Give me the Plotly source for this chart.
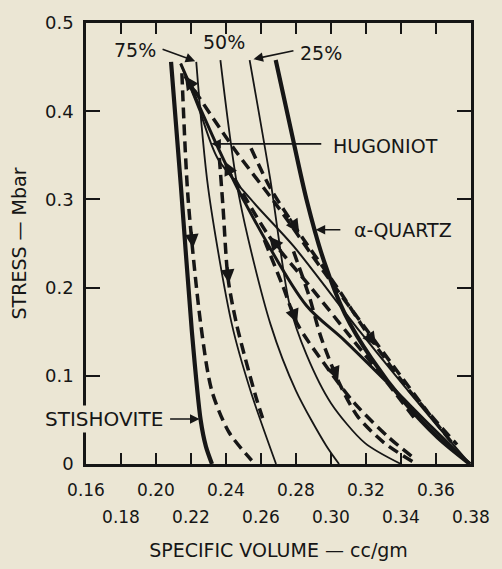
import numpy as np
import plotly.graph_objects as go

# ---------------- data ----------------
stish_x = [0.2086, 0.2143, 0.2205, 0.2255, 0.2285, 0.2320]
stish_y = [0.456, 0.313, 0.150, 0.050, 0.020, 0.0]

p75_x = [0.2230, 0.2298, 0.2434, 0.2540, 0.2686]
p75_y = [0.456, 0.313, 0.158, 0.083, 0.0]

p50_x = [0.2368, 0.2476, 0.2655, 0.2800, 0.2972, 0.3046]
p50_y = [0.458, 0.302, 0.158, 0.083, 0.021, 0.0]

p25_x = [0.2535, 0.2652, 0.2764, 0.2860, 0.3000, 0.3193, 0.3400]
p25_y = [0.458, 0.324, 0.180, 0.124, 0.069, 0.024, 0.0]

quartz_x = [0.2684, 0.2770, 0.2860, 0.2960, 0.3080, 0.3230, 0.3420, 0.3610, 0.3794]
quartz_y = [0.458, 0.380, 0.300, 0.230, 0.170, 0.120, 0.070, 0.030, 0.0]

hug_x = [0.2141, 0.2344, 0.2493, 0.2858, 0.3072, 0.3354, 0.3580, 0.3794]
hug_y = [0.454, 0.363, 0.302, 0.180, 0.141, 0.086, 0.041, 0.0]

h2_x = [0.2141, 0.2250, 0.2351, 0.2560, 0.2786, 0.3166, 0.3579, 0.3794]
h2_y = [0.454, 0.400, 0.347, 0.296, 0.247, 0.150, 0.050, 0.0]

# dashed paths
d1_x = [0.2148, 0.2183, 0.2256, 0.2319, 0.2417, 0.2547]
d1_y = [0.443, 0.302, 0.158, 0.083, 0.036, 0.004]

d2_x = [0.2165, 0.2444, 0.2699, 0.2955, 0.3182, 0.3409, 0.3579, 0.3692]
d2_y = [0.440, 0.358, 0.291, 0.219, 0.158, 0.097, 0.052, 0.024]

d3_x = [0.2362, 0.2383, 0.2412, 0.2461, 0.2568, 0.2609]
d3_y = [0.347, 0.291, 0.210, 0.158, 0.078, 0.052]

d4_x = [0.2619, 0.2724, 0.2810, 0.2964, 0.3134, 0.3331, 0.3472]
d4_y = [0.254, 0.202, 0.158, 0.113, 0.069, 0.030, 0.007]

d5_x = [0.2786, 0.2874, 0.2944, 0.3049, 0.3152, 0.3304, 0.3473]
d5_y = [0.241, 0.191, 0.143, 0.091, 0.054, 0.024, 0.002]

d6_x = [0.2543, 0.2653, 0.2801, 0.3039, 0.3238, 0.3449, 0.3607, 0.3720]
d6_y = [0.358, 0.313, 0.267, 0.199, 0.139, 0.083, 0.047, 0.022]

d7_x = [0.2447, 0.2647, 0.2890, 0.3100, 0.3326, 0.3496]
d7_y = [0.324, 0.258, 0.199, 0.147, 0.091, 0.047]

x_ticks = [0.16, 0.18, 0.20, 0.22, 0.24, 0.26, 0.28, 0.30, 0.32, 0.34, 0.36, 0.38]
x_row1 = ["0.16", "", "0.20", "", "0.24", "", "0.28", "", "0.32", "", "0.36", ""]
x_row2_vals = [0.18, 0.22, 0.26, 0.30, 0.34, 0.38]
x_row2 = ["0.18", "0.22", "0.26", "0.30", "0.34", "0.38"]
y_ticks = [0, 0.1, 0.2, 0.3, 0.4, 0.5]
y_labels = ["0", "0.1", "0.2", "0.3", "0.4", "0.5"]

# ---------------- styling ----------------
BG = "#ebe6d4"
INK = "#161616"
FONT = "DejaVu Sans, Verdana, sans-serif"
DASH = "11px,6px"

fig = go.Figure()


def add_line(x, y, width, dash="solid"):
    fig.add_trace(go.Scatter(
        x=x, y=y, mode="lines",
        line=dict(color=INK, width=width, dash=dash, shape="spline", smoothing=0.8),
        showlegend=False, hoverinfo="skip"))


add_line(stish_x, stish_y, 4.2)
add_line(quartz_x, quartz_y, 4.2)
add_line(hug_x, hug_y, 3)
add_line(h2_x, h2_y, 2)
add_line(p75_x, p75_y, 1.8)
add_line(p50_x, p50_y, 1.8)
add_line(p25_x, p25_y, 1.8)
for dx, dy in [(d1_x, d1_y), (d2_x, d2_y), (d3_x, d3_y), (d4_x, d4_y),
               (d5_x, d5_y), (d6_x, d6_y), (d7_x, d7_y)]:
    add_line(dx, dy, 3.5, DASH)

# helper trace for the second row of x tick labels
fig.add_trace(go.Scatter(x=[0.16, 0.38], y=[None, None], xaxis="x2", yaxis="y",
                         mode="lines", showlegend=False, hoverinfo="skip"))


def point_at(xs, ys, yv):
    ys_a = np.array(ys)
    xs_a = np.array(xs)
    order = np.argsort(ys_a)
    return float(np.interp(yv, ys_a[order], xs_a[order])), yv


annotations = []


def arrow_on(xs, ys, y_tip, y_tail, width=2.5):
    tx, ty = point_at(xs, ys, y_tip)
    bx, by = point_at(xs, ys, y_tail)
    annotations.append(dict(x=tx, y=ty, ax=bx, ay=by, xref="x", yref="y",
                            axref="x", ayref="y", text="", showarrow=True,
                            arrowhead=2, arrowsize=1.1, arrowwidth=width,
                            arrowcolor=INK, standoff=0))


arrow_on(d1_x, d1_y, 0.245, 0.265)
arrow_on(d3_x, d3_y, 0.205, 0.225)
arrow_on(d4_x, d4_y, 0.160, 0.180)
arrow_on(d2_x, d2_y, 0.440, 0.415)
arrow_on(hug_x, hug_y, 0.343, 0.325)
arrow_on(d7_x, d7_y, 0.258, 0.240)
arrow_on(d6_x, d6_y, 0.262, 0.280)
arrow_on(d6_x, d6_y, 0.134, 0.150)
arrow_on(d5_x, d5_y, 0.095, 0.112)


def label(text, x, y, size=19, **kw):
    d = dict(x=x, y=y, xref="x", yref="y", text=text, showarrow=False,
             font=dict(family=FONT, size=size, color=INK))
    d.update(kw)
    annotations.append(d)


def pointer(x0, y0, x1, y1):
    annotations.append(dict(x=x1, y=y1, ax=x0, ay=y0, xref="x", yref="y",
                            axref="x", ayref="y", text="", showarrow=True,
                            arrowhead=2, arrowsize=1.2, arrowwidth=1.6,
                            arrowcolor=INK, standoff=0))


label("75%", 0.188, 0.469)
pointer(0.2029, 0.471, 0.2224, 0.4567)
label("50%", 0.2389, 0.478)
label("25%", 0.2944, 0.4656)
pointer(0.2794, 0.469, 0.2557, 0.459)
label("HUGONIOT", 0.3313, 0.361)
pointer(0.2953, 0.363, 0.2316, 0.363)
label("α-QUARTZ", 0.3411, 0.2656)
pointer(0.3062, 0.2656, 0.2912, 0.2656)
label("STISHOVITE", 0.1700, 0.051, size=20, bgcolor=BG)
pointer(0.2072, 0.051, 0.2249, 0.051)

fig.update_layout(
    width=502, height=569,
    margin=dict(l=86, r=19, t=22, b=97),
    paper_bgcolor=BG, plot_bgcolor=BG,
    showlegend=False,
    font=dict(family=FONT, size=17, color=INK),
    annotations=annotations,
    xaxis=dict(range=[0.16, 0.38], tickvals=x_ticks, ticktext=x_row1,
               ticks="inside", ticklen=11, tickwidth=2, tickcolor=INK,
               showline=True, linewidth=2.5, linecolor=INK, mirror="ticks",
               showgrid=False, zeroline=False, ticklabelstandoff=9,
               tickfont=dict(family=FONT, size=17, color=INK)),
    xaxis2=dict(range=[0.16, 0.38], overlaying="x", anchor="y", side="bottom",
                tickvals=x_row2_vals, ticktext=x_row2, ticks="",
                showline=False, showgrid=False, zeroline=False,
                ticklabelstandoff=41,
                tickfont=dict(family=FONT, size=17, color=INK),
                title=dict(text="SPECIFIC VOLUME — cc/gm", standoff=17,
                           font=dict(family=FONT, size=19, color=INK))),
    yaxis=dict(range=[0, 0.5], tickvals=y_ticks, ticktext=y_labels,
               ticks="inside", ticklen=14, tickwidth=2, tickcolor=INK,
               showline=True, linewidth=2.5, linecolor=INK, mirror="ticks",
               showgrid=False, zeroline=False, ticklabelstandoff=6,
               tickfont=dict(family=FONT, size=18, color=INK),
               title=dict(text="STRESS — Mbar", standoff=14,
                          font=dict(family=FONT, size=19, color=INK))),
)

fig.write_html("out.html",
               config={"displayModeBar": False},
               post_script="document.body.style.margin='0';"
                           "document.body.style.background='" + BG + "';")
